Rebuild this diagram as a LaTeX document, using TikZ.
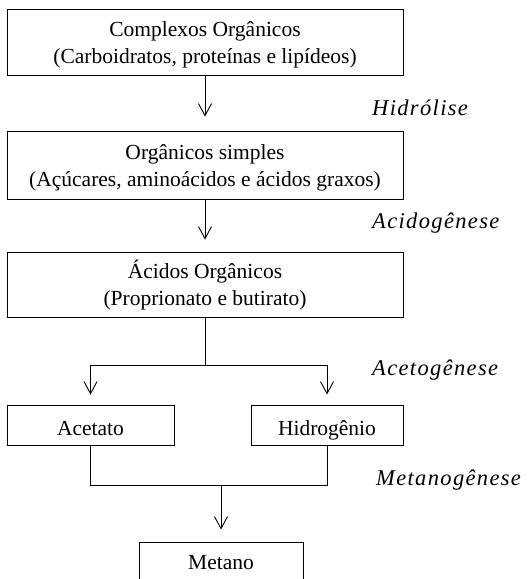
\documentclass[tikz,border=0pt]{standalone}
\usepackage{fontspec}
\setmainfont{Liberation Serif}
\newfontfamily\phasefont[LetterSpace=6]{Liberation Serif}
\usetikzlibrary{arrows.meta}
\begin{document}
\begin{tikzpicture}[x=1pt,y=-1pt,
  box/.style={draw,line width=0.9pt,align=center,inner sep=0pt,font=\fontsize{21.5}{27}\selectfont},
  twoline/.style={text height=42pt,text depth=0pt},
  oneline/.style={text height=20pt,text depth=0pt},
  phase/.style={anchor=west,inner sep=0pt,font=\fontsize{22.5}{26}\phasefont\itshape},
  link/.style={line width=0.9pt},
  arr/.style={link,-{Straight Barb[length=12pt,width=13pt]}}]
\useasboundingbox (0,0) rectangle (529,579);
\clip (0,0) rectangle (529,579);
% stage boxes
\node[box,twoline,minimum width=396pt,minimum height=66pt] (b1) at (205,42)
  {Complexos Orgânicos\\(Carboidratos, proteínas e lipídeos)};
\node[box,twoline,minimum width=396pt,minimum height=68pt] (b2) at (205,165)
  {Orgânicos simples\\(Açúcares, aminoácidos e ácidos graxos)};
\node[box,twoline,minimum width=396pt,minimum height=65pt] (b3) at (205,284.5)
  {Ácidos Orgânicos\\(Proprionato e butirato)};
\node[box,oneline,minimum width=167pt,minimum height=40pt] (ac) at (90.5,425) {Acetato};
\node[box,oneline,minimum width=152pt,minimum height=40pt] (hi) at (327,425) {Hidrogênio};
% final box runs past the lower edge
\node[box,minimum width=164pt,minimum height=60pt] (me) at (221,572) {};
\node[font=\fontsize{21.5}{27}\selectfont,inner sep=0pt] (mt) at (221,563) {Metano};

% phase names
\node[phase] (p1) at (372,108) {Hidrólise};
\node[phase] (p2) at (372,223) {Acidogênese};
\node[phase] (p3) at (372,370) {Acetogênese};
\node[phase] (p4) at (376,480) {Metanogênese};

% connectors
\draw[arr,shorten >=14pt] (b1) -- (b2);
\draw[arr,shorten >=12pt] (b2) -- (b3);
\draw[link] (b3.south) -- ++(0,48) coordinate (split);
\draw[arr,shorten >=10pt] (split) -| (ac.north);
\draw[arr,shorten >=10pt] (split) -| (hi.north);
\draw[link] (ac.south) -- ++(0,40) -| (hi.south);
\coordinate (join) at (221,485);
\draw[arr,shorten >=12pt] (join) -- (join |- me.north);
\end{tikzpicture}
\end{document}
